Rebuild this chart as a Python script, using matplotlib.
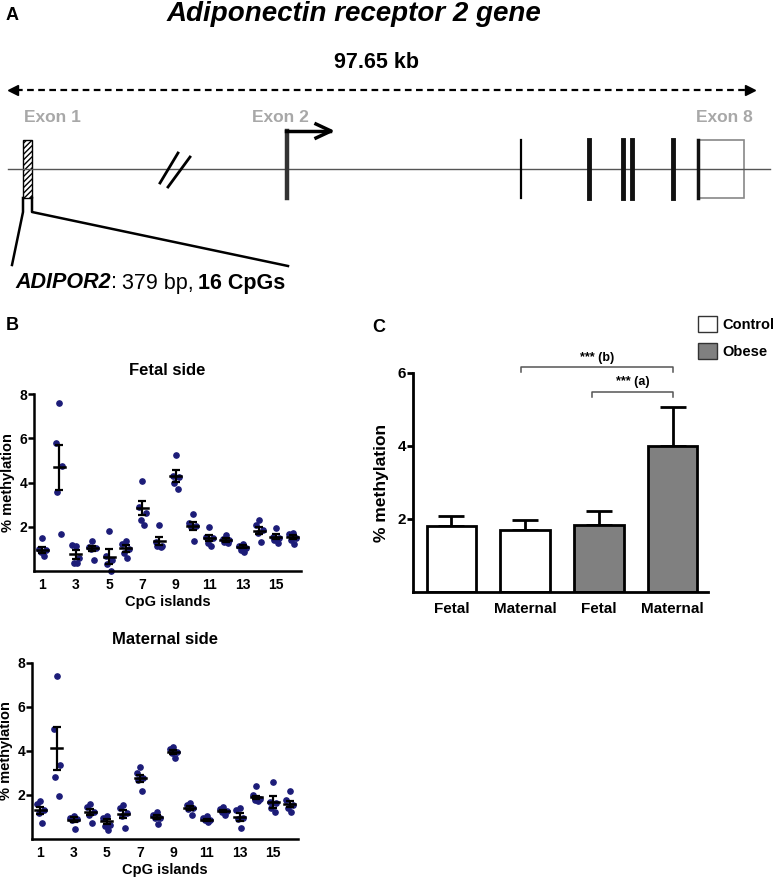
import matplotlib
matplotlib.use("Agg")
import matplotlib.pyplot as plt
from matplotlib.patches import Rectangle, Patch

plt.rcParams['font.family'] = ['Liberation Sans', 'DejaVu Sans']
plt.rcParams['font.weight'] = 'bold'
plt.rcParams['axes.labelweight'] = 'bold'
plt.rcParams['axes.titleweight'] = 'bold'

# ---- data ----
cpg_sites = list(range(1, 17))
cpg_ticks = [1, 3, 5, 7, 9, 11, 13, 15]

fetal_dots = [
    [1.48, 1.0, 0.95, 0.88, 0.68],
    [7.6, 5.8, 4.75, 3.55, 1.66],
    [1.15, 1.19, 0.6, 0.38, 0.36],
    [1.37, 1.1, 1.05, 0.98, 0.5],
    [1.83, 0.7, 0.5, 0.32, 0.0],
    [1.36, 1.22, 1.0, 0.8, 0.57],
    [4.07, 2.9, 2.6, 2.3, 2.08],
    [2.08, 1.3, 1.15, 1.12, 1.1],
    [5.25, 4.3, 4.24, 3.97, 3.71],
    [2.57, 2.16, 2.05, 2.0, 1.37],
    [2.0, 1.55, 1.48, 1.25, 1.13],
    [1.63, 1.45, 1.38, 1.33, 1.25],
    [1.22, 1.12, 1.05, 0.95, 0.88],
    [2.31, 2.08, 1.86, 1.7, 1.33],
    [1.93, 1.55, 1.48, 1.4, 1.28],
    [1.7, 1.66, 1.48, 1.42, 1.2],
]
fetal_mean = [0.95, 4.68, 0.75, 1.03, 0.65, 1.03, 2.85, 1.36, 4.3, 2.05,
              1.5, 1.4, 1.1, 1.83, 1.55, 1.55]
fetal_sem = [0.14, 1.0, 0.2, 0.12, 0.33, 0.15, 0.3, 0.18, 0.27, 0.18,
             0.14, 0.07, 0.06, 0.17, 0.1, 0.09]

maternal_dots = [
    [1.72, 1.6, 1.3, 1.2, 0.75],
    [7.41, 5.0, 3.37, 2.8, 1.96],
    [1.03, 0.95, 0.9, 0.85, 0.45],
    [1.58, 1.45, 1.25, 1.1, 0.75],
    [1.03, 0.95, 0.65, 0.57, 0.42],
    [1.55, 1.4, 1.2, 1.03, 0.5],
    [3.26, 3.02, 2.76, 2.69, 2.2],
    [1.25, 1.1, 0.95, 0.95, 0.69],
    [4.2, 4.09, 3.97, 3.92, 3.67],
    [1.63, 1.55, 1.4, 1.36, 1.1],
    [1.03, 0.95, 0.88, 0.85, 0.77],
    [1.45, 1.35, 1.28, 1.25, 1.1],
    [1.43, 1.33, 0.95, 0.9, 0.5],
    [2.4, 1.98, 1.81, 1.78, 1.75],
    [2.61, 1.7, 1.63, 1.4, 1.25],
    [2.16, 1.78, 1.55, 1.4, 1.25],
]
maternal_mean = [1.3, 4.12, 0.88, 1.22, 0.8, 1.15, 2.76, 0.98, 3.97, 1.4,
                 0.88, 1.28, 1.0, 1.9, 1.68, 1.6]
maternal_sem = [0.17, 0.97, 0.1, 0.14, 0.12, 0.18, 0.17, 0.09, 0.09, 0.09,
                0.05, 0.06, 0.17, 0.06, 0.27, 0.15]

c_labels = ['Fetal', 'Maternal', 'Fetal', 'Maternal']
c_groups = ['Control', 'Control', 'Obese', 'Obese']
c_mean = [1.81, 1.71, 1.83, 3.99]
c_err = [0.28, 0.26, 0.38, 1.08]

exon_thin = [521]
exon_thick = [589, 623, 632, 673]

# ---- figure ----
W, H = 778, 877
fig = plt.figure(figsize=(W / 100, H / 100), dpi=100)
ov = fig.add_axes([0, 0, 1, 1])
ov.set_xlim(0, W); ov.set_ylim(H, 0); ov.axis('off')

def fax(x0, x1, y_top, y_bot):
    return fig.add_axes([x0 / W, 1 - y_bot / H, (x1 - x0) / W, (y_bot - y_top) / H])

# ---- panel A: gene diagram (pixel coords) ----
ov.text(6, 15, 'A', fontsize=13, va='center', ha='left')
ov.text(354, 14, 'Adiponectin receptor 2 gene', fontsize=20, style='italic',
        va='center', ha='center')
ov.text(377, 62, '97.65 kb', fontsize=15.5, va='center', ha='center')
ov.plot([16, 747], [90, 90], ls=(0, (3, 2)), color='black', lw=1.6)
ov.plot([13], [90], marker='<', color='black', ms=7)
ov.plot([750], [90], marker='>', color='black', ms=7)
grey = '#a8a8a8'
for lab, xc in [('Exon 1', 52), ('Exon 2', 280), ('Exon 8', 724)]:
    ov.text(xc, 117, lab, fontsize=12.5, color=grey, va='center', ha='center')

ov.plot([8, 770], [169, 169], color='#555555', lw=1)
ov.plot([160, 178], [183, 153], color='black', lw=2)
ov.plot([168, 190], [187, 157], color='black', lw=2)

ov.add_patch(Rectangle((23, 140), 9, 58, facecolor='white', edgecolor='black',
                       lw=1, hatch='//////'))
ov.plot([23, 23, 12], [198, 212, 265], color='black', lw=1.8)
ov.plot([32, 32, 288], [198, 212, 266], color='black', lw=1.8)

ov.plot([287, 287], [198, 131], color='#333333', lw=3.2)
ov.plot([286, 330], [131, 131], color='black', lw=2.5)
ov.plot([316, 331, 316], [124, 131, 138], color='black', lw=2.5)

for xe in exon_thin:
    ov.plot([xe, xe], [140, 198], color='black', lw=1.6)
for xe in exon_thick:
    ov.plot([xe, xe], [140, 198], color='#111111', lw=3.5)
ov.plot([698, 698], [140, 198], color='#111111', lw=2.5)
ov.add_patch(Rectangle((698, 140), 46, 58, facecolor='white', edgecolor='#888888', lw=1.2))

r = fig.canvas.get_renderer()
x = 15
for s, kw, gap in [('ADIPOR2', dict(style='italic'), 0),
                   (':', dict(weight='normal'), 5),
                   ('379 bp,', dict(weight='normal'), 5),
                   ('16 CpGs', dict(), 0)]:
    t = ov.text(x, 283, s, fontsize=15.5, va='center', ha='left', **kw)
    x += t.get_window_extent(renderer=r).width + gap

# ---- panel B ----
ov.text(6, 326, 'B', fontsize=13, va='center', ha='left')
offsets = [0.0, -0.2, 0.2, -0.1, 0.1]
dot_col = '#1c1c78'

def cpg_panel(ax, dots, mean, sem, title):
    for i, site in enumerate(cpg_sites):
        xs = [site + offsets[k] for k in range(len(dots[i]))]
        ax.plot(xs, dots[i], 'o', color=dot_col, ms=3.8, clip_on=False, zorder=2)
        ax.plot([site - 0.33, site + 0.33], [mean[i]] * 2, color='black', lw=1.8, zorder=3)
    ax.errorbar(cpg_sites, mean, yerr=sem, fmt='none', ecolor='black',
                elinewidth=1.6, capsize=2.8, capthick=1.6, zorder=3)
    ax.set_xlim(0.5, 16.5)
    ax.set_ylim(0, 8)
    ax.set_xticks(cpg_ticks)
    ax.set_yticks([2, 4, 6, 8])
    ax.set_xlabel('CpG islands', fontsize=10.5, labelpad=2)
    ax.set_ylabel('% methylation', fontsize=10.5, labelpad=3)
    ax.set_title(title, fontsize=12, pad=14)
    for sp in ['top', 'right']:
        ax.spines[sp].set_visible(False)
    for sp in ['left', 'bottom']:
        ax.spines[sp].set_linewidth(1.8)
    ax.tick_params(axis='x', length=0, labelsize=10, pad=5)
    ax.tick_params(axis='y', length=4, width=1.8, labelsize=10, pad=1)

ax_f = fax(34, 301, 394, 571)
cpg_panel(ax_f, fetal_dots, fetal_mean, fetal_sem, 'Fetal side')
ax_m = fax(32, 298, 663, 839)
cpg_panel(ax_m, maternal_dots, maternal_mean, maternal_sem, 'Maternal side')

# ---- panel C ----
ov.text(372, 327, 'C', fontsize=13, va='center', ha='left')
ax_c = fax(413, 708, 373, 592)
fill = {'Control': 'white', 'Obese': '#808080'}
pos = list(range(len(c_mean)))
ax_c.bar(pos, c_mean, width=0.67, color=[fill[g] for g in c_groups],
         edgecolor='black', linewidth=2, zorder=2)
ax_c.errorbar(pos, c_mean, yerr=[[0] * len(c_err), c_err], fmt='none',
              ecolor='black', elinewidth=2, capsize=9.5, capthick=2, zorder=1)
ax_c.set_xlim(-0.52, 3.48)
ax_c.set_ylim(0, 6)
ax_c.set_xticks(pos)
ax_c.set_xticklabels(c_labels)
ax_c.set_yticks([2, 4, 6])
ax_c.set_ylabel('% methylation', fontsize=12.5, labelpad=6)
for sp in ['top', 'right']:
    ax_c.spines[sp].set_visible(False)
for sp in ['left', 'bottom']:
    ax_c.spines[sp].set_linewidth(2)
ax_c.tick_params(axis='x', length=0, labelsize=11, pad=7)
ax_c.tick_params(axis='y', length=4, width=2, labelsize=11, pad=1)

br_col = '#555555'
for x0, x1, yb, lab in [(0.94, 3.0, 6.16, '*** (b)'), (1.91, 3.0, 5.48, '*** (a)')]:
    ax_c.plot([x0, x0, x1, x1], [yb - 0.14, yb, yb, yb - 0.14], color=br_col,
              lw=1.1, clip_on=False)
    ax_c.text((x0 + x1) / 2, yb + 0.1, lab, fontsize=9, ha='center', va='bottom')

handles = [Patch(facecolor=fill[g], edgecolor='#333333', linewidth=1) for g in ['Control', 'Obese']]
fig.legend(handles, ['Control', 'Obese'], loc='upper left',
           bbox_to_anchor=(697 / W, 1 - 315 / H), frameon=False, fontsize=10.5,
           handlelength=1.25, handleheight=1.3, handletextpad=0.4, labelspacing=0.75,
           borderaxespad=0, borderpad=0.1)

fig.savefig('out.png', dpi=100)
